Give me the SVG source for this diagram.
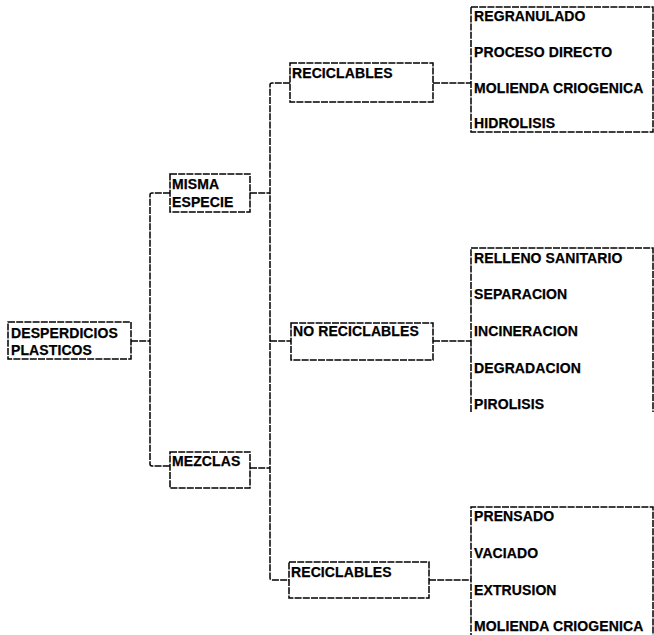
<svg xmlns="http://www.w3.org/2000/svg" width="654" height="635" viewBox="0 0 654 635">
<style>
.box{fill:#fff;stroke:#000;stroke-width:1.5;stroke-dasharray:7 1.2}
.ln{fill:none;stroke:#000;stroke-width:1.5;stroke-dasharray:7 1.2}
text{font-family:"Liberation Sans",Arial,sans-serif;font-weight:bold;font-size:14px;letter-spacing:0.1px;fill:#000;stroke:#000;stroke-width:0.25}
</style>
<rect width="654" height="635" fill="#fff"/>
<g id="connectors">
<path class="ln" d="M131,341 H150"/>
<path class="ln" d="M170,193 H152 Q150,193 150,195 V464 Q150,466 152,466 H170"/>
<path class="ln" d="M250,193 H270"/>
<path class="ln" d="M250,468 H270"/>
<path class="ln" d="M290,83 H272 Q270,83 270,85 V578 Q270,580 272,580 H289"/>
<path class="ln" d="M270,341 H291"/>
<path class="ln" d="M433,83 H471"/>
<path class="ln" d="M433,341 H471"/>
<path class="ln" d="M429,580 H471"/>
</g>
<g id="n-desperdicios">
<rect class="box" x="8" y="322" width="123" height="37"/>
<text x="11" y="338">DESPERDICIOS</text>
<text x="11" y="355">PLASTICOS</text>
</g>
<g id="n-misma">
<rect class="box" x="170" y="174" width="80" height="38"/>
<text x="172" y="189">MISMA</text>
<text x="172" y="207">ESPECIE</text>
</g>
<g id="n-mezclas">
<rect class="box" x="170" y="452" width="80" height="36"/>
<text x="172" y="466">MEZCLAS</text>
</g>
<g id="n-reciclables1">
<rect class="box" x="290" y="63" width="143" height="39"/>
<text x="292" y="78">RECICLABLES</text>
</g>
<g id="n-noreciclables">
<rect class="box" x="291" y="323" width="142" height="37"/>
<text x="293" y="336">NO RECICLABLES</text>
</g>
<g id="n-reciclables2">
<rect class="box" x="289" y="562" width="140" height="36"/>
<text x="291" y="577">RECICLABLES</text>
</g>
<g id="n-list1">
<rect class="box" x="471" y="7" width="182" height="125"/>
<text x="474" y="21">REGRANULADO</text>
<text x="474" y="57">PROCESO DIRECTO</text>
<text x="474" y="93">MOLIENDA CRIOGENICA</text>
<text x="474" y="128">HIDROLISIS</text>
</g>
<g id="n-list2">
<path class="ln" d="M471,412 V248 H653 V412"/>
<text x="474" y="263">RELLENO SANITARIO</text>
<text x="474" y="299">SEPARACION</text>
<text x="474" y="336">INCINERACION</text>
<text x="474" y="373">DEGRADACION</text>
<text x="474" y="409">PIROLISIS</text>
</g>
<g id="n-list3">
<path class="ln" d="M471,640 V507 H653 V640"/>
<text x="474" y="521">PRENSADO</text>
<text x="474" y="558">VACIADO</text>
<text x="474" y="595">EXTRUSION</text>
<text x="474" y="631">MOLIENDA CRIOGENICA</text>
</g>
</svg>
